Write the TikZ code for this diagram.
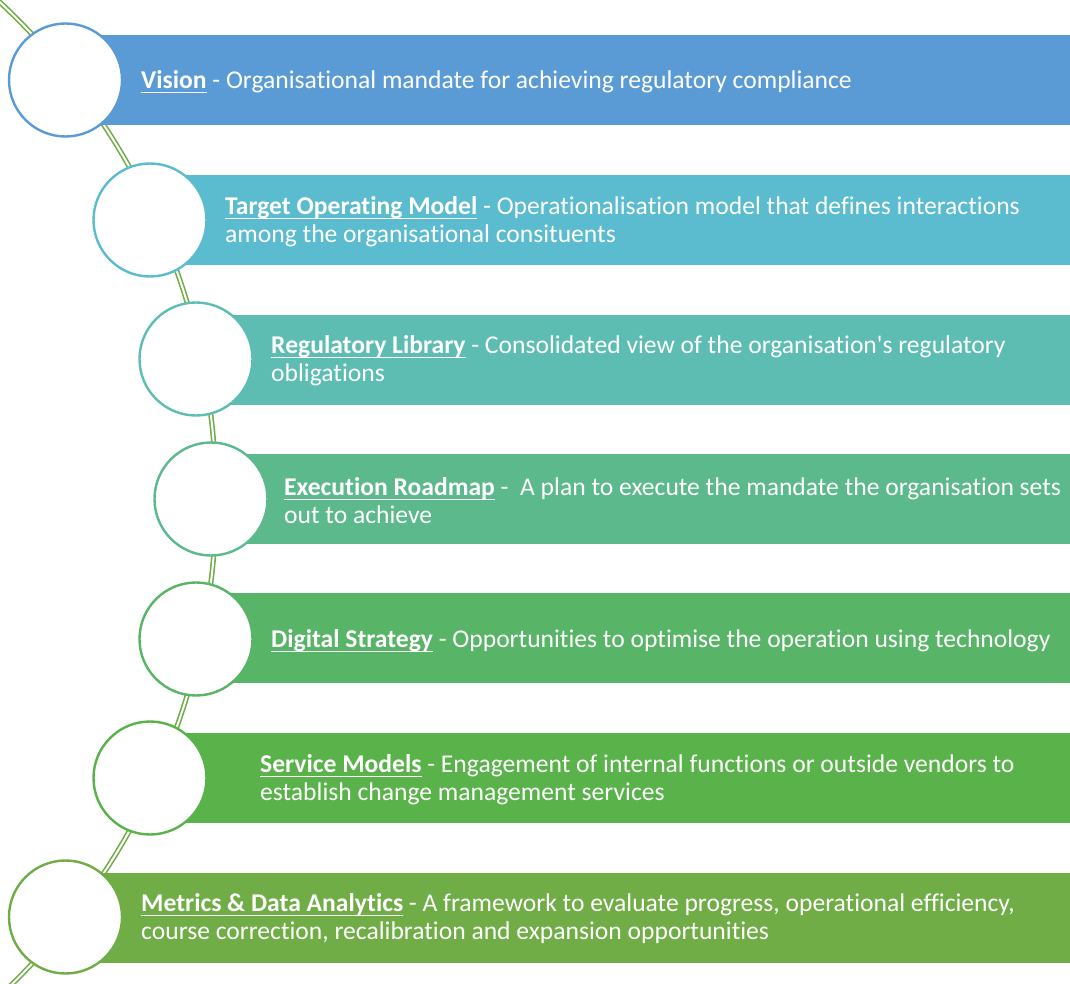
\documentclass[tikz,border=0pt]{standalone}
\usepackage{fontspec}
\setmainfont[Ligatures={NoCommon}]{Carlito}
\newfontfamily\plainap[Ligatures={NoCommon}]{Carlito}
\definecolor{c1}{HTML}{5B9BD5}
\definecolor{c2}{HTML}{5BBCD0}
\definecolor{c3}{HTML}{5EBDB2}
\definecolor{c4}{HTML}{5CB98C}
\definecolor{c5}{HTML}{58B466}
\definecolor{c6}{HTML}{5AB24A}
\definecolor{c7}{HTML}{70AD47}
\newsavebox{\hdbox}
\newcommand{\hd}[1]{\sbox{\hdbox}{\textbf{#1}}\rlap{\rule[-4.5pt]{\wd\hdbox}{1.5pt}}\usebox{\hdbox}}
\tikzset{
  bar/.style={rectangle, draw=none, fill=#1, minimum height=90pt, minimum width=1100pt, anchor=west, inner sep=0pt},
  ring/.style={circle, draw=#1, fill=white, line width=2.4pt, minimum size=113pt, inner sep=0pt},
  lbl/.style={anchor=west, align=left, text=white, inner sep=0pt, font=\fontsize{25.6}{28}\selectfont},
  conn/.style={draw=c7, line width=1.6pt, double=white, double distance=2pt}
}
\begin{document}
\begin{tikzpicture}[x=1pt,y=-1pt]
\useasboundingbox (0,0) rectangle (1070,984);
\begin{scope}
\clip (0,0) rectangle (1070,984);
\coordinate (arcc) at (-463,499);
\draw[conn] (arcc) circle (679pt);
% bars
\node[bar=c1] (b1) at (65,80) {};
\node[bar=c2] (b2) at (150,220) {};
\node[bar=c3] (b3) at (196,360) {};
\node[bar=c4] (b4) at (211,499) {};
\node[bar=c5] (b5) at (196,638) {};
\node[bar=c6] (b6) at (150,778) {};
\node[bar=c7] (b7) at (65,918) {};
\end{scope}
% circles
\node[ring=c1] (r1) at (65.5,80) {};
\node[ring=c2] (r2) at (150,220) {};
\node[ring=c3] (r3) at (196,359) {};
\node[ring=c4] (r4) at (211,499) {};
\node[ring=c5] (r5) at (196,639) {};
\node[ring=c6] (r6) at (150,778) {};
\node[ring=c7] (r7) at (65.5,917) {};
% labels
\node[lbl] (t1) at (141,82) {\hd{Vision} - Organisational mandate for achieving regulatory compliance};
\node[lbl] (t2) at (225,222) {\hd{Target Operating Model} - Operationalisation model that defines interactions\\among the organisational consituents};
\node[lbl] (t3) at (271,361) {\hd{Regulatory Library} - Consolidated view of the organisation{\plainap'}s regulatory\\obligations};
\node[lbl] (t4) at (284,501) {\hd{Execution Roadmap} -\ \ A plan to execute the mandate the organisation sets\\out to achieve};
\node[lbl] (t5) at (271,641) {\hd{Digital Strategy} - Opportunities to optimise the operation using technology};
\node[lbl] (t6) at (260,780) {\hd{Service Models} - Engagement of internal functions or outside vendors to\\establish change management services};
\node[lbl] (t7) at (141,919) {\hd{Metrics \& Data Analytics} - A framework to evaluate progress, operational efficiency,\\course correction, recalibration and expansion opportunities};
\end{tikzpicture}
\end{document}
